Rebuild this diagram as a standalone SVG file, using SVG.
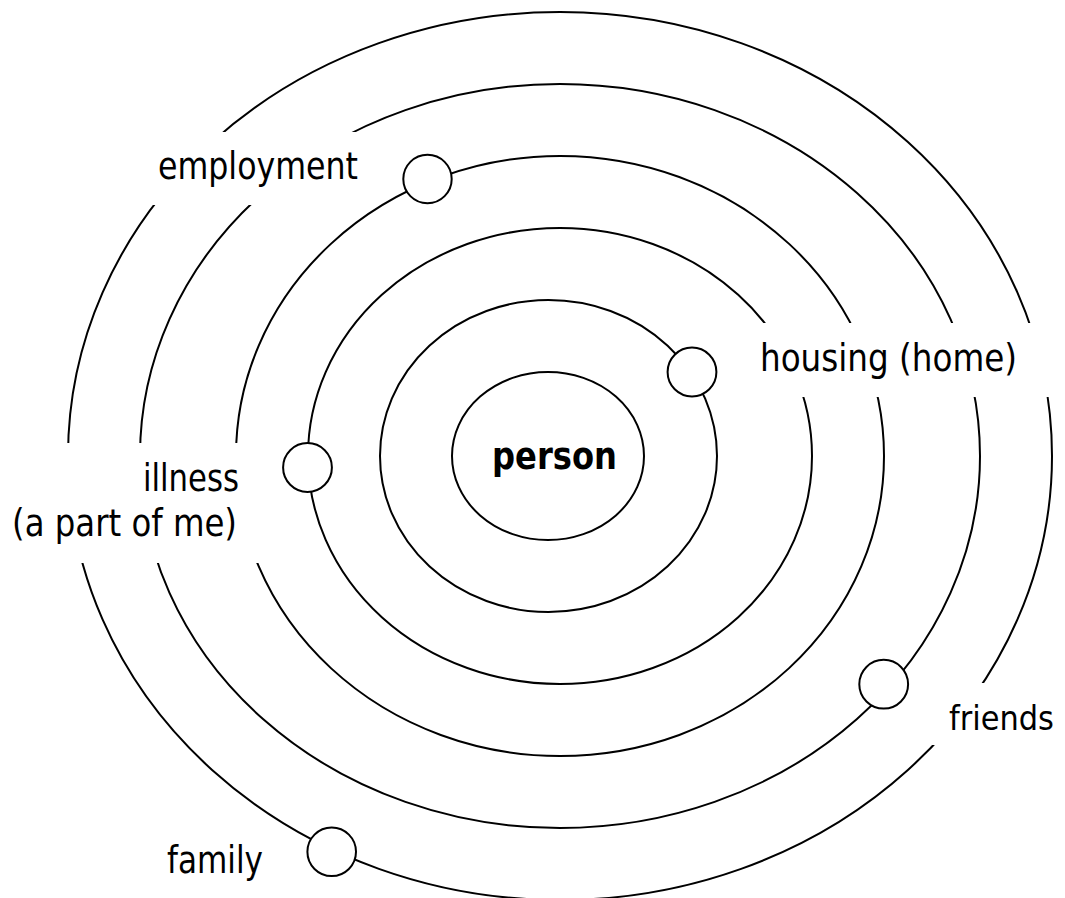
<svg xmlns="http://www.w3.org/2000/svg" width="1065" height="898" viewBox="0 0 1065 898">
  <style>
    .ring { fill: none; stroke: #000; stroke-width: 2; }
    .node { fill: #fff; stroke: #000; stroke-width: 2; }
    .lbl { font-family: "DejaVu Sans", "Noto Sans", sans-serif; font-size: 37px; fill: #000; }
    .bold { font-weight: bold; }
    .edge { font-size: 33.5px; }
  </style>
  <defs>
    <mask id="gaps" maskUnits="userSpaceOnUse" x="0" y="0" width="1065" height="898">
      <rect x="0" y="0" width="1065" height="898" fill="#fff"/>
      <rect x="140" y="132" width="232" height="73" fill="#000"/>
      <rect x="740" y="323" width="325" height="74" fill="#000"/>
      <rect x="0" y="443" width="272" height="120" fill="#000"/>
      <rect x="922" y="683" width="143" height="62" fill="#000"/>
    </mask>
  </defs>
  <rect x="0" y="0" width="1065" height="898" fill="#fff"/>
  <g id="connectors" mask="url(#gaps)">
    <ellipse class="ring" cx="548.5" cy="456" rx="168.5" ry="156"/>
    <ellipse class="ring" cx="560" cy="456" rx="252" ry="228"/>
    <ellipse class="ring" cx="560" cy="456" rx="324" ry="300"/>
    <ellipse class="ring" cx="560" cy="456" rx="420" ry="372"/>
    <ellipse class="ring" cx="560" cy="456" rx="492" ry="444"/>
  </g>
  <g id="person">
    <ellipse class="ring" cx="548" cy="456" rx="96" ry="84"/>
    <text class="lbl bold" x="492" y="469" textLength="125" lengthAdjust="spacingAndGlyphs">person</text>
  </g>
  <g id="employment">
    <circle class="node" cx="427.5" cy="179" r="24.2"/>
    <text class="lbl" x="158" y="179" textLength="200" lengthAdjust="spacingAndGlyphs">employment</text>
  </g>
  <g id="housing">
    <circle class="node" cx="692" cy="372" r="24.4"/>
    <text class="lbl" x="760" y="371" textLength="257" lengthAdjust="spacingAndGlyphs">housing (home)</text>
  </g>
  <g id="illness">
    <circle class="node" cx="307.5" cy="467.5" r="24.4"/>
    <text class="lbl" x="143" y="491" textLength="96" lengthAdjust="spacingAndGlyphs">illness</text>
    <text class="lbl" x="12" y="536" textLength="225" lengthAdjust="spacingAndGlyphs">(a part of me)</text>
  </g>
  <g id="friends">
    <circle class="node" cx="883.7" cy="684.2" r="24.4"/>
    <text class="lbl edge" x="949" y="730" textLength="105" lengthAdjust="spacingAndGlyphs">friends</text>
  </g>
  <g id="family">
    <circle class="node" cx="331.7" cy="851.8" r="24.3"/>
    <text class="lbl" x="167" y="873" textLength="96" lengthAdjust="spacingAndGlyphs">family</text>
  </g>
</svg>
